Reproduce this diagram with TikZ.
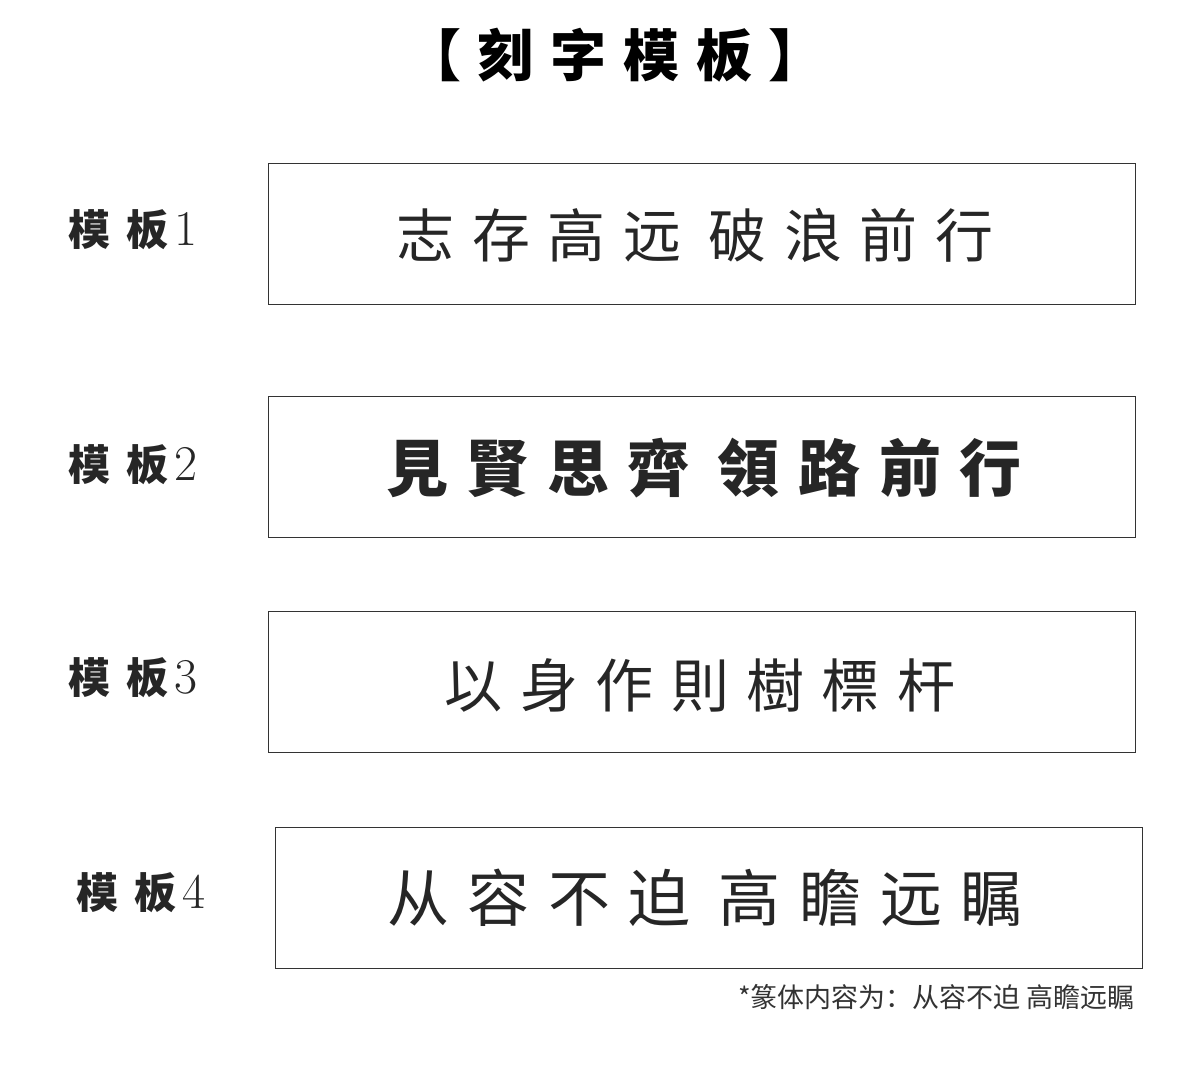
\documentclass[tikz,border=0pt]{standalone}
\usepackage{fontspec}
\newfontfamily\cjksc[LetterSpace=30]{Noto Sans CJK SC}
\newfontfamily\cjktc[LetterSpace=30]{Noto Sans CJK TC}
\newfontfamily\cjklab[LetterSpace=40]{Noto Sans CJK SC}
\newfontfamily\cjknote{Noto Sans CJK SC}
\newcommand\lnum[1]{\hspace{3pt}{\fontfamily{lmr}\fontsize{25}{27}\selectfont\mdseries #1}}
\newcommand\gapw{\hbox{}\hspace{14pt}\hbox{}}
\tikzset{tbox/.style={draw=black!80,line width=0.6pt,minimum width=433.5pt,minimum height=70.5pt,anchor=north west},
 lbl/.style={font=\fontsize{21}{24}\cjklab\bfseries,text=black!85},
 content/.style={text=black!85}}
\begin{document}
\begin{tikzpicture}[x=0.5pt,y=-0.5pt]
\useasboundingbox (0,0) rectangle (1200,1084);
\node (title) at (615,55) {\fontsize{28}{30}\cjksc\bfseries 【刻字模板】};
\node[tbox] (b1) at (268,163) {};
\node[tbox] (b2) at (268,396) {};
\node[tbox] (b3) at (268,611) {};
\node[tbox] (b4) at (275,827) {};
\node[lbl] (l1) at (133,230) {模板\lnum{1}};
\node[lbl] (l2) at (133,465) {模板\lnum{2}};
\node[lbl] (l3) at (133,678) {模板\lnum{3}};
\node[lbl] (l4) at (141,893) {模板\lnum{4}};
\node[content] (t1) at (695,235) {\fontsize{29}{31}\cjksc 志存高远\gapw 破浪前行};
\node[content] (t2) at (704,468) {\fontsize{31}{33}\cjktc\bfseries 見賢思齊\gapw 領路前行};
\node[content] (t3) at (700,685) {\fontsize{29}{31}\cjktc 以身作則樹標杆};
\node[content] (t4) at (705,898) {\fontsize{31}{33}\cjksc 从容不迫\gapw 高瞻远瞩};
\node[anchor=east,text=black!80] (fn) at (1142,997) {\fontsize{13.5}{15}\cjknote *篆体内容为：从容不迫 高瞻远瞩};
\end{tikzpicture}
\end{document}
